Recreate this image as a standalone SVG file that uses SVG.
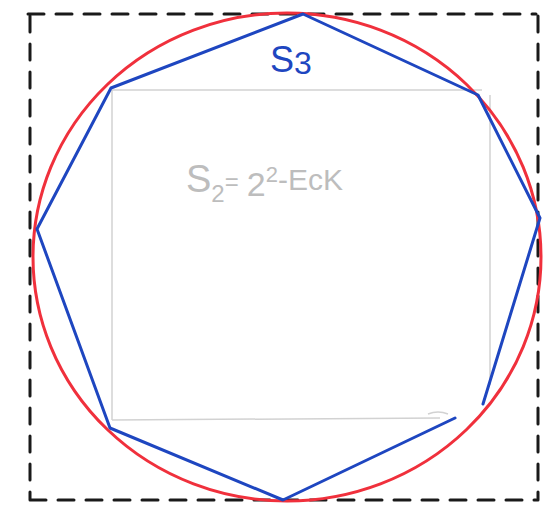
<svg xmlns="http://www.w3.org/2000/svg" width="544" height="511" viewBox="0 0 544 511">
<style>
.frame{fill:none;stroke:#1a1a1a;stroke-width:3;stroke-dasharray:16 12;stroke-linecap:round}
.sq{fill:none;stroke:#d2d2d2;stroke-width:1.5}
.circ{fill:none;stroke:#f0303c;stroke-width:3}
.oct{fill:none;stroke:#1e46c0;stroke-width:3;stroke-linejoin:round;stroke-linecap:round}
.t2{font-family:"Liberation Sans",Arial,sans-serif;fill:#bdbdbd}
.t3{font-family:"Liberation Sans",Arial,sans-serif;fill:#1e46c0}
</style>
<rect width="544" height="511" fill="#fff"/>
<g id="frame">
<path class="frame" d="M28 14 L536 14 M30 16 L30 500 M538 16 L538 500 M30 500 L536 500"/>
</g>
<g id="square">
<path class="sq" d="M112 90 L482 90 M112 90 L112 420 M490 95 L490 385 M112 420 L440 418 M428 414 q10 -4 20 0"/>
</g>
<g id="circle">
<ellipse class="circ" cx="287" cy="257" rx="254" ry="244"/>
</g>
<g id="octagon">
<path class="oct" d="M483 404 L540 218 L478 95 L303 14 L111 88 L37 229 L110 428 L283 500 L455 418"/>
</g>
<g id="labels">
<text class="t3" x="270" y="72" font-size="36">S<tspan font-size="32" dy="2">3</tspan></text>
<text class="t2" x="186" y="192" font-size="38">S<tspan font-size="24" dy="10">2</tspan><tspan font-size="24" dy="-12">=</tspan><tspan font-size="34" dx="8" dy="6">2</tspan><tspan font-size="22" dy="-14">2</tspan><tspan font-size="30" dy="8">-EcK</tspan></text>
</g>
</svg>
